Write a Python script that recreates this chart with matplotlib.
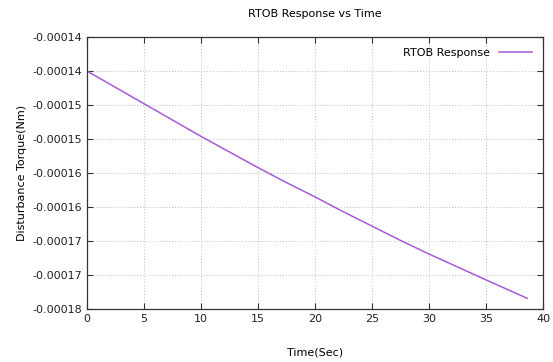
# RTOB response vs time, gnuplot-like look
import matplotlib.pyplot as plt

plt.rcParams["font.family"] = "DejaVu Sans"
plt.rcParams["font.size"] = 8

# data
time_sec = [0, 2.5, 5, 7.5, 10, 12.5, 15, 17.5, 20, 22.5, 25, 27.5, 30, 32.5, 35, 38.6]
torque = [-1.400e-4, -1.424e-4, -1.448e-4, -1.472e-4, -1.496e-4, -1.519e-4,
          -1.542e-4, -1.564e-4, -1.585e-4, -1.607e-4, -1.628e-4, -1.649e-4,
          -1.669e-4, -1.688e-4, -1.707e-4, -1.734e-4]
y_ticks = [-0.000135, -0.00014, -0.000145, -0.00015, -0.000155,
           -0.00016, -0.000165, -0.00017, -0.000175]
y_tick_labels = ["-0.00014", "-0.00014", "-0.00015", "-0.00015", "-0.00016",
                 "-0.00016", "-0.00017", "-0.00017", "-0.00018"]
x_ticks = [0, 5, 10, 15, 20, 25, 30, 35, 40]

fig = plt.figure(figsize=(5.53, 3.62), dpi=100)
ax = fig.add_axes([0.157, 0.146, 0.825, 0.752])

ax.plot(time_sec, torque, color="#a65ad8", linewidth=1.1, label="RTOB Response")

ax.set_xlim(0, 40)
ax.set_ylim(-0.000175, -0.000135)
ax.set_xticks(x_ticks)
ax.set_xticklabels([str(t) for t in x_ticks])
ax.set_yticks(y_ticks)
ax.set_yticklabels(y_tick_labels)

ax.grid(True, color="#bdbdbd", linestyle=(0, (1, 2)), linewidth=0.7)
ax.tick_params(direction="in", length=4, width=0.8, top=True, right=True,
               colors="#333333", labelcolor="#222222", labelsize=8)
for s in ax.spines.values():
    s.set_color("#333333")
    s.set_linewidth(0.9)

ax.set_title("RTOB Response vs Time", fontsize=8, pad=14)
ax.set_xlabel("Time(Sec)", fontsize=8, labelpad=17)
ax.set_ylabel("Disturbance Torque(Nm)", fontsize=8)

leg = ax.legend(loc="upper right", frameon=False, markerfirst=False,
                fontsize=8, handlelength=3, borderaxespad=0.6)

fig.savefig("out.png", dpi=100)
